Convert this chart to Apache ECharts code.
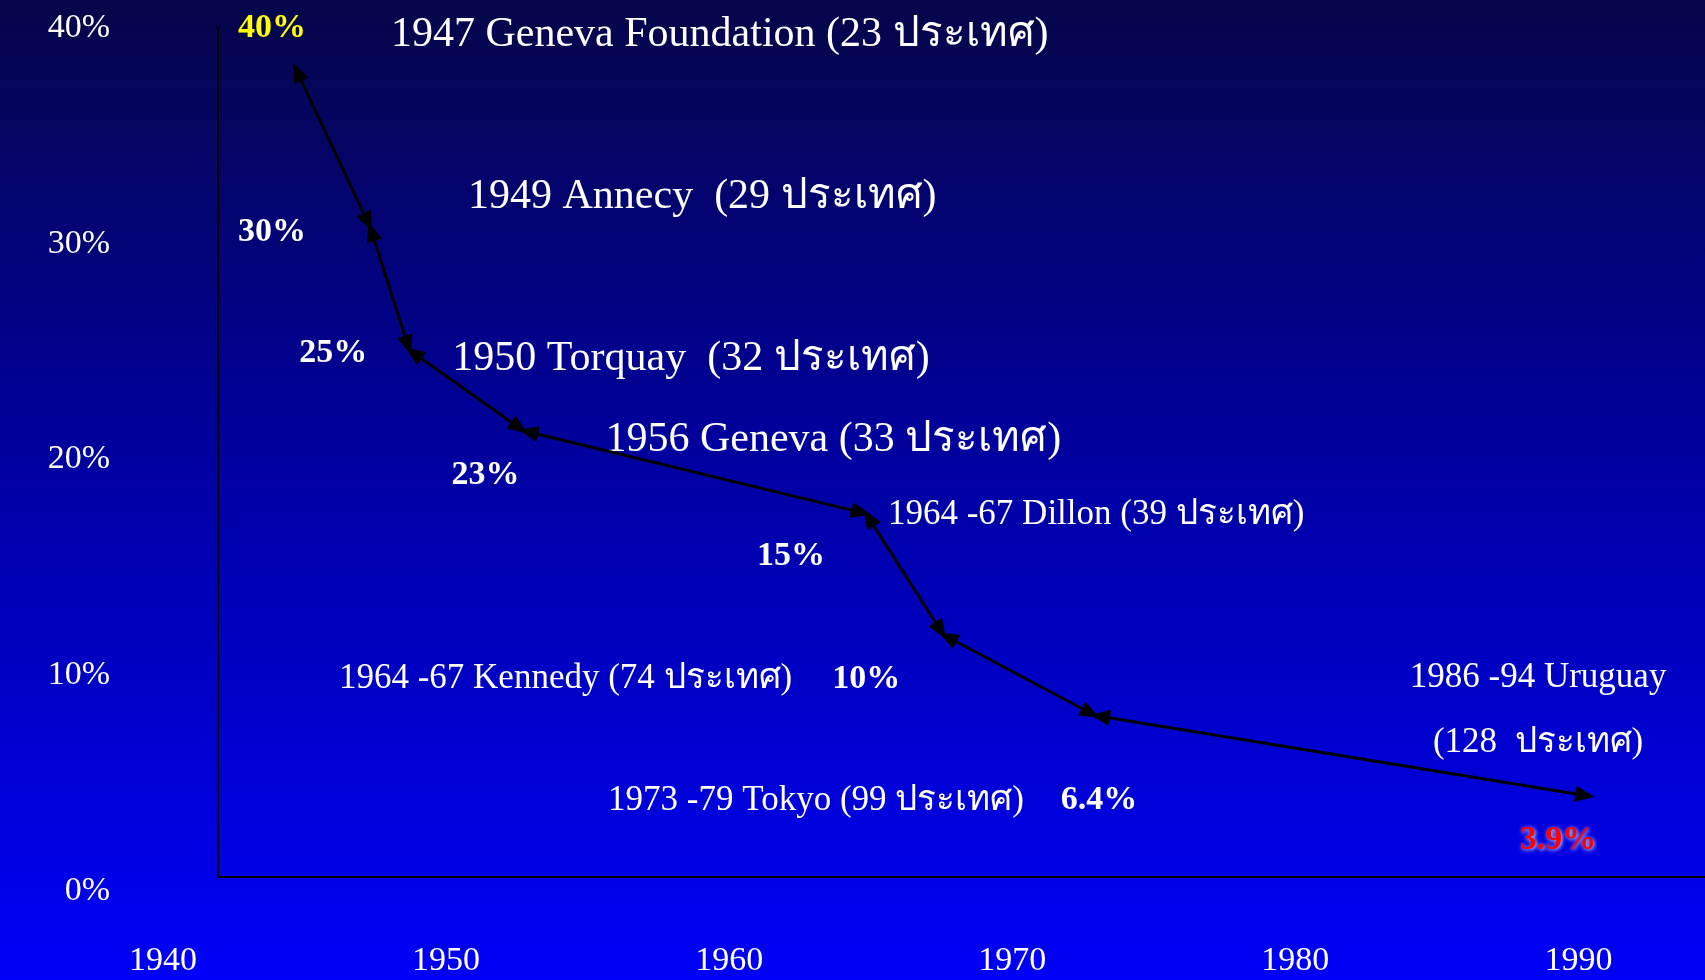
<!DOCTYPE html>
<html>
<head>
<meta charset="utf-8">
<title>GATT rounds</title>
<script src="https://cdn.jsdelivr.net/npm/echarts@6/dist/echarts.min.js"></script>
<style>
  html, body { margin: 0; padding: 0; }
  #main { width: 1705px; height: 980px; }
</style>
</head>
<body>
<div id="main"></div>
<script>
	// tick labels of the axes
	var yearTicks = [1940, 1950, 1960, 1970, 1980, 1990];
	var rateTicks = [0, 10, 20, 30, 40];

	// where each round is plotted on the slide (year, %)
	var roundYears = [1944.66, 1947.31, 1948.70, 1952.73, 1964.83, 1967.56, 1972.92, 1990.41];
	var tariffRates = [38.1, 30.6, 24.8, 21.0, 17.1, 11.4, 7.6, 3.8];

	// text beside each point
	var rateLabels = ['40%', '30%', '25%', '23%', '15%', '10%', '6.4%', '3.9%'];
	var roundNames = [
		'1947 Geneva Foundation (23 ประเทศ)',
		'1949 Annecy  (29 ประเทศ)',
		'1950 Torquay  (32 ประเทศ)',
		'1956 Geneva (33 ประเทศ)',
		'1964 -67 Dillon (39 ประเทศ)',
		'1964 -67 Kennedy (74 ประเทศ)',
		'1973 -79 Tokyo (99 ประเทศ)',
		'1986 -94 Uruguay\n(128  ประเทศ)'
	];

	// label placement relative to the point (pixels)
	var rateLabelStyle = [
		{offset: [-23, -39], color: '#ffff00'},
		{offset: [-98, 5]},
		{offset: [-76, 3]},
		{offset: [-38, 44]},
		{offset: [-75, 43]},
		{offset: [-77, 44]},
		{offset: [4, 85]},
		{offset: [-32, 44], color: '#ff0000', textShadowColor: 'rgba(255,255,255,0.9)', textShadowBlur: 4, textShadowOffsetX: 1, textShadowOffsetY: 1}
	];
	var roundLabelStyle = [
		{align: 'left', offset: [96, -32], fontSize: 42},
		{align: 'left', offset: [98, -30], fontSize: 42},
		{align: 'left', offset: [43, 9], fontSize: 42},
		{align: 'left', offset: [82, 9], fontSize: 42},
		{align: 'left', offset: [22, 1], fontSize: 35},
		{align: 'right', offset: [-151, 44], fontSize: 35},
		{align: 'right', offset: [-71, 85], fontSize: 35},
		{align: 'center', offset: [-52, -86], fontSize: 35, lineHeight: 65}
	];

	var fontFamily = '"Liberation Serif", "Times New Roman", serif';
	//arrow head: width, length
	var headSize = [16, 20];

	// one double arrow between each pair of rounds
	var segments = [];
	for (var i = 0; i < roundYears.length - 1; i++) {
		segments.push([
			{coord: [roundYears[i], tariffRates[i]], symbolSize: headSize},
			{coord: [roundYears[i + 1], tariffRates[i + 1]], symbolSize: headSize}
		]);
	}

	function pointData(styles, texts) {
		return roundYears.map(function (y, i) {
			var label = Object.assign({formatter: texts[i]}, styles[i]);
			return {value: [y, tariffRates[i]], label: label};
		});
	}

	var myChart = echarts.init(document.getElementById('main'));
	var option = {
		animation: false,
		//slide background, navy to bright blue
		backgroundColor: {
			type: 'linear', x: 0, y: 0, x2: 0, y2: 1,
			colorStops: [
				{offset: 0, color: '#06064a'},
				{offset: 0.5, color: '#0000a6'},
				{offset: 1, color: '#0000f8'}
			]
		},
		grid: [
			//plot area, starts at the vertical axis line
			{left: 218, right: 0, top: 27, bottom: 103},
			//only carries the tick labels (hand placed on the slide, so its own scale)
			{left: 163, right: 0, top: 28, bottom: 89}
		],
		xAxis: [
			{
				gridIndex: 0, type: 'value',
				min: 1941.94, max: 1994.47,
				axisLine: {show: true, lineStyle: {color: '#000', width: 2}},
				axisTick: {show: false}, axisLabel: {show: false}, splitLine: {show: false}
			},
			{
				gridIndex: 1, type: 'value',
				min: yearTicks[0], max: 1994.47, interval: 10,
				axisLine: {show: false}, axisTick: {show: false}, splitLine: {show: false},
				axisLabel: {
					color: '#fff', fontSize: 34, fontFamily: fontFamily, margin: 53,
					showMinLabel: true, showMaxLabel: false,
					formatter: function (v) { return yearTicks.indexOf(v) >= 0 ? String(v) : ''; }
				}
			}
		],
		yAxis: [
			{
				gridIndex: 0, type: 'value',
				min: 0, max: 40,
				axisLine: {show: true, lineStyle: {color: '#000', width: 2}},
				axisTick: {show: false}, axisLabel: {show: false}, splitLine: {show: false}
			},
			{
				gridIndex: 1, type: 'value',
				min: rateTicks[0], max: rateTicks[rateTicks.length - 1], interval: 10,
				axisLine: {show: false}, axisTick: {show: false}, splitLine: {show: false},
				axisLabel: {color: '#fff', fontSize: 34, fontFamily: fontFamily, margin: 53, formatter: '{value}%'}
			}
		],
		series: [
			{
				//percentage labels, also carries the arrows between rounds
				type: 'scatter',
				xAxisIndex: 0, yAxisIndex: 0,
				symbolSize: 1,
				itemStyle: {color: 'transparent', opacity: 1},
				label: {
					show: true, position: 'inside', align: 'center', verticalAlign: 'middle',
					color: '#fff', fontSize: 34, fontWeight: 'bold', fontFamily: fontFamily
				},
				data: pointData(rateLabelStyle, rateLabels),
				markLine: {
					silent: true,
					animation: false,
					symbol: ['triangle', 'triangle'],
					//pull the head back a little so the two tips meet on the point
					symbolOffset: [[0, 5], [0, 5]],
					lineStyle: {color: '#000', width: 3, type: 'solid', opacity: 1},
					itemStyle: {color: '#000'},
					label: {show: false},
					emphasis: {disabled: true},
					data: segments
				}
			},
			{
				//round names
				type: 'scatter',
				xAxisIndex: 0, yAxisIndex: 0,
				symbolSize: 1,
				itemStyle: {color: 'transparent', opacity: 1},
				label: {
					show: true, position: 'inside', verticalAlign: 'middle',
					color: '#fff', fontFamily: fontFamily
				},
				data: pointData(roundLabelStyle, roundNames)
			}
		]
	};
	myChart.setOption(option);
</script>
</body>
</html>
